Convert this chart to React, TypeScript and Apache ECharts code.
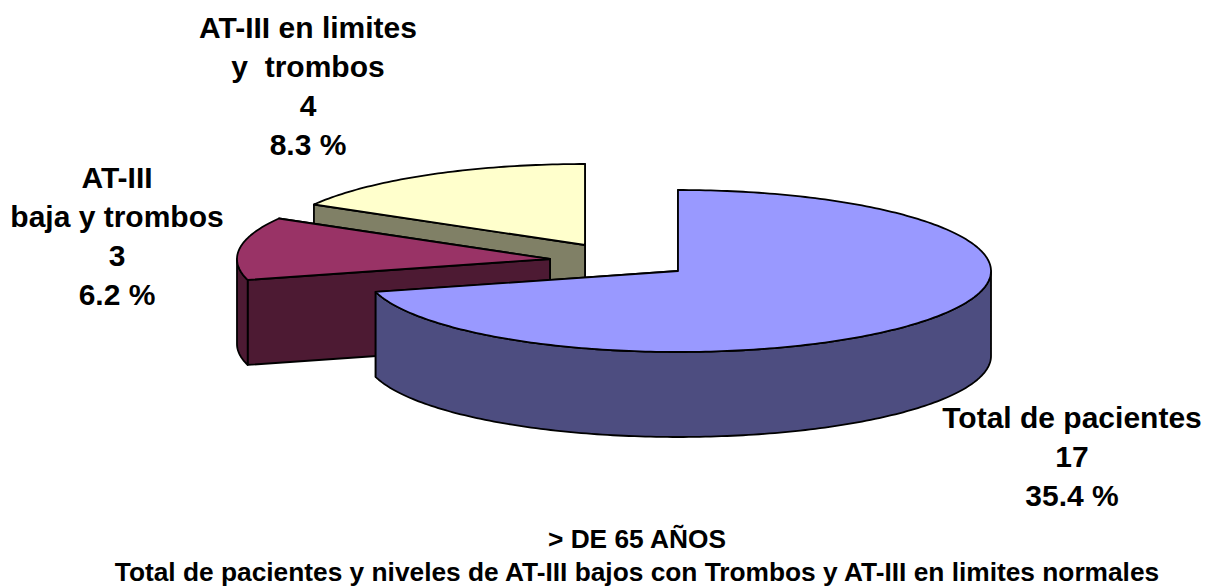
import React, { useEffect, useRef } from "react";
import * as echarts from "echarts";

const sliceValues = [17, 3, 4];
const topColors = ["#9999FF", "#993366", "#FFFFCC"];
const wallColors = ["#4D4D80", "#4D1A33", "#808066"];
const labelLines = [
  ["Total de pacientes", "17", "35.4 %"],
  ["AT-III", "baja y trombos", "3", "6.2 %"],
  ["AT-III en limites", "y  trombos", "4", "8.3 %"],
];
const caption = ["> DE 65 AÑOS", "Total de pacientes y niveles de AT-III bajos con Trombos y AT-III en limites normales"];

// Pie geometry on the page: each slice has its own pulled-out centre.
const centers = [[678, 271], [550, 259], [585, 245]];
const RX = 313;
const RY = 81;
const DEPTH = 85;
const labelAnchors = [[1072, 417], [117, 177.5], [308, 27]];
const LABEL_LINE = 39;

const rim = (c: number[], deg: number, drop = 0) => {
  const a = (deg * Math.PI) / 180;
  return [c[0] + RX * Math.sin(a), c[1] - RY * Math.cos(a) + drop];
};

const arcPoints = (c: number[], from: number, to: number, drop = 0) => {
  const out: number[][] = [];
  const n = Math.max(2, Math.ceil(Math.abs(to - from)));
  for (let i = 0; i <= n; i++) out.push(rim(c, from + ((to - from) * i) / n, drop));
  return out;
};

const edge = "#000000";

function renderSlice(params: any, api: any) {
  const i = api.value(3);
  const start = api.value(1);
  const end = api.value(2);
  const c = centers[i];
  const shape = (points: number[][], fill: string) => ({
    type: "polygon",
    shape: { points },
    style: { fill, stroke: edge, lineWidth: 1.8, lineJoin: "round" },
  });
  const low = [c[0], c[1] + DEPTH];
  const children: any[] = [];
  // Radial walls, then the outer wall where it faces the viewer, then the top.
  for (const deg of [end, start]) {
    const r = rim(c, deg);
    children.push(shape([c, r, [r[0], r[1] + DEPTH], low], wallColors[i]));
  }
  const visFrom = Math.max(start, 90);
  const visTo = Math.min(end, 270);
  if (visTo > visFrom) {
    children.push(
      shape([...arcPoints(c, visFrom, visTo), ...arcPoints(c, visTo, visFrom, DEPTH)], wallColors[i])
    );
  }
  children.push(shape([c, ...arcPoints(c, start, end)], topColors[i]));
  return { type: "group", children };
}

export default function App() {
  const ref = useRef<HTMLDivElement>(null);
  useEffect(() => {
    const chart = echarts.init(ref.current!, null, { renderer: "svg" });
    const total = sliceValues.reduce((a, b) => a + b, 0);
    let acc = 0;
    const rows = sliceValues.map((v, i) => {
      const s = (acc / total) * 360;
      acc += v;
      return [v, s, (acc / total) * 360, i];
    });
    const text: any[] = [];
    labelLines.forEach((lines, i) =>
      lines.forEach((t, j) =>
        text.push({
          type: "text",
          x: labelAnchors[i][0],
          y: labelAnchors[i][1] + j * LABEL_LINE,
          style: {
            text: t,
            fill: "#000",
            font: 'bold 30px "Liberation Sans", Arial, sans-serif',
            textAlign: "center",
            textVerticalAlign: "middle",
          },
        })
      )
    );
    caption.forEach((t, j) =>
      text.push({
        type: "text",
        x: 637,
        y: 538.5 + j * 33.5,
        style: {
          text: t,
          fill: "#000",
          font: 'bold 26.3px "Liberation Sans", Arial, sans-serif',
          textAlign: "center",
          textVerticalAlign: "middle",
        },
      })
    );
    chart.setOption({
      animation: false,
      backgroundColor: "#ffffff",
      series: [
        {
          type: "custom",
          coordinateSystem: "none",
          renderItem: renderSlice,
          // Painted back to front so the largest slice ends up on top.
          data: [rows[2], rows[1], rows[0]],
          encode: { tooltip: 0 },
          silent: true,
        },
      ],
      graphic: text,
    });
    return () => chart.dispose();
  }, []);
  return <div ref={ref} style={{ position: "fixed", left: 0, top: 0, width: 1209, height: 586 }} />;
}
